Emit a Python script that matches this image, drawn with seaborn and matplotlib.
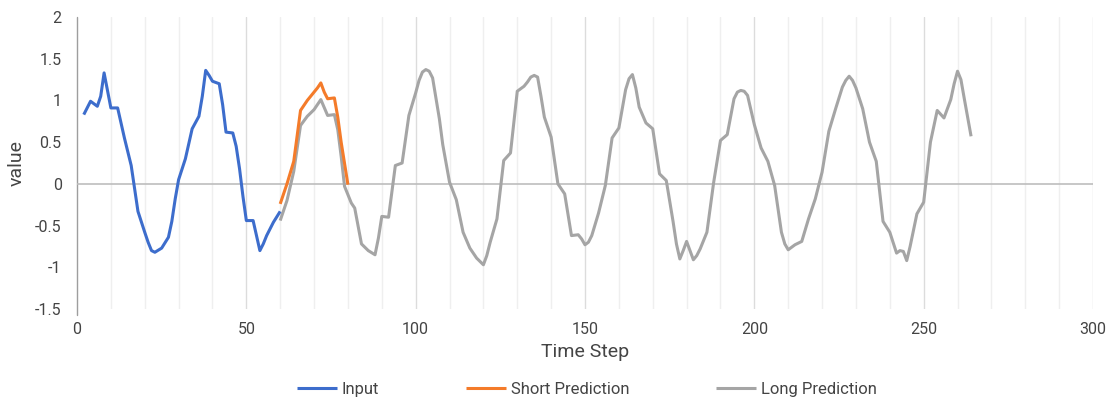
import matplotlib
matplotlib.use("Agg")
import matplotlib.pyplot as plt
import seaborn as sns

sns.set_theme(style="white")
plt.rcParams['font.family'] = ['Roboto', 'DejaVu Sans']

# ---- data ----
input_t = [2, 4, 6, 7, 8, 9, 10, 12, 14, 16, 18, 20, 21, 22, 23, 25, 27, 28, 29, 30, 32,
           34, 36, 37, 38, 39, 40, 42, 43, 44, 46, 47, 48, 49, 50, 52, 53, 54, 55, 56,
           58, 60]
input_v = [0.83, 0.99, 0.93, 1.05, 1.33, 1.12, 0.91, 0.91, 0.55, 0.22, -0.33, -0.58,
           -0.70, -0.80, -0.82, -0.77, -0.64, -0.45, -0.18, 0.05, 0.30, 0.66, 0.81,
           1.05, 1.36, 1.30, 1.23, 1.20, 0.95, 0.62, 0.61, 0.45, 0.18, -0.15, -0.44,
           -0.44, -0.62, -0.80, -0.72, -0.62, -0.46, -0.33]

short_t = [60, 62, 64, 66, 68, 70, 71, 72, 73, 74, 76, 77, 78, 80]
short_v = [-0.24, 0.00, 0.27, 0.88, 1.00, 1.10, 1.15, 1.21, 1.10, 1.02, 1.03, 0.80,
           0.50, -0.01]

long_t = [60, 62, 64, 66, 68, 70, 72, 74, 76, 77, 78, 79, 81, 82, 84, 86, 88, 89, 90, 92,
          94, 96, 98, 100, 101, 102, 103, 104, 105, 107, 108, 110, 112, 114, 116, 118,
          119, 120, 121, 122, 124, 126, 128, 130, 132, 133, 134, 135, 136, 137, 138,
          140, 142, 144, 146, 148, 149, 150, 151, 152, 154, 156, 158, 160, 162, 163,
          164, 165, 166, 168, 170, 172, 174, 176, 177, 178, 179, 180, 181, 182, 183,
          184, 186, 188, 190, 192, 194, 195, 196, 197, 198, 200, 202, 204, 206, 208,
          209, 210, 211, 212, 214, 216, 218, 220, 222, 224, 226, 227, 228, 229, 230,
          232, 234, 236, 238, 240, 242, 243, 244, 245, 246, 248, 250, 252, 254, 256,
          258, 259, 260, 261, 262, 264]
long_v = [-0.44, -0.20, 0.15, 0.70, 0.81, 0.89, 1.01, 0.82, 0.83, 0.65, 0.33, -0.03,
          -0.23, -0.29, -0.72, -0.80, -0.85, -0.65, -0.39, -0.40, 0.22, 0.25, 0.82,
          1.09, 1.24, 1.34, 1.37, 1.35, 1.27, 0.78, 0.47, 0.02, -0.19, -0.58, -0.77,
          -0.89, -0.93, -0.97, -0.86, -0.70, -0.42, 0.28, 0.37, 1.11, 1.17, 1.22, 1.28,
          1.30, 1.28, 1.05, 0.80, 0.56, 0.00, -0.12, -0.62, -0.61, -0.66, -0.73, -0.70,
          -0.62, -0.35, -0.02, 0.55, 0.67, 1.13, 1.26, 1.31, 1.15, 0.92, 0.73, 0.66,
          0.12, 0.04, -0.45, -0.72, -0.90, -0.80, -0.69, -0.80, -0.91, -0.86, -0.78,
          -0.58, 0.02, 0.52, 0.59, 1.02, 1.10, 1.12, 1.11, 1.06, 0.71, 0.43, 0.27,
          -0.02, -0.58, -0.72, -0.79, -0.76, -0.73, -0.69, -0.42, -0.18, 0.14, 0.63,
          0.90, 1.16, 1.24, 1.29, 1.24, 1.15, 0.90, 0.50, 0.27, -0.45, -0.58, -0.83,
          -0.80, -0.81, -0.92, -0.75, -0.36, -0.22, 0.50, 0.88, 0.79, 1.01, 1.20, 1.35,
          1.25, 1.02, 0.57]

series_names = ["Input", "Short Prediction", "Long Prediction"]
series_colors = ["#3d6dcc", "#f47b2a", "#a5a5a5"]
x_ticks = [0, 50, 100, 150, 200, 250, 300]
y_ticks = [-1.5, -1, -0.5, 0, 0.5, 1, 1.5, 2]
y_tick_labels = ["-1.5", "-1", "-0.5", "0", "0.5", "1", "1.5", "2"]

# ---- figure ----
fig = plt.figure(figsize=(11.07, 3.99), dpi=100)
ax = fig.add_axes([77 / 1107, 1 - 309 / 399, (1093 - 77) / 1107, (309 - 17) / 399])

for gx in range(10, 301, 10):
    ax.axvline(gx, color="#dcdcdc" if gx % 50 == 0 else "#efefef", lw=1, zorder=0)
ax.axvline(0, color="#9e9e9e", lw=1, zorder=1, ymin=-0.02, clip_on=False)
ax.axhline(0, color="#bdbdbd", lw=1.2, zorder=1)

data = [(input_t, input_v), (short_t, short_v), (long_t, long_v)]
for i in [2, 1, 0]:
    t, v = data[i]
    sns.lineplot(x=t, y=v, ax=ax, color=series_colors[i], lw=2.2,
                 label=series_names[i], zorder=3 + (2 - i),
                 solid_joinstyle="round", solid_capstyle="butt")

ax.set_xlim(0, 300)
ax.set_ylim(-1.5, 2)
ax.set_xticks(x_ticks)
ax.set_yticks(y_ticks)
ax.set_yticklabels(y_tick_labels)
for s in ax.spines.values():
    s.set_visible(False)
ax.tick_params(axis="both", length=0, labelsize=11.5, colors="#444444")
ax.tick_params(axis="x", pad=9)
ax.tick_params(axis="y", pad=11)
ax.set_xlabel("Time Step", fontsize=14, color="#444444", labelpad=5)
ax.set_ylabel("value", fontsize=14, color="#444444", labelpad=7)

handles, labels = ax.get_legend_handles_labels()
ax.get_legend().remove()
hmap = dict(zip(labels, handles))
fig.legend([hmap[n] for n in series_names], series_names, loc="center",
           bbox_to_anchor=(0.53, 0.025), ncol=3, frameon=False, fontsize=12,
           handlelength=2.4, handletextpad=0.3, columnspacing=5.2,
           labelcolor="#444444")

fig.savefig("out.png", dpi=100)
